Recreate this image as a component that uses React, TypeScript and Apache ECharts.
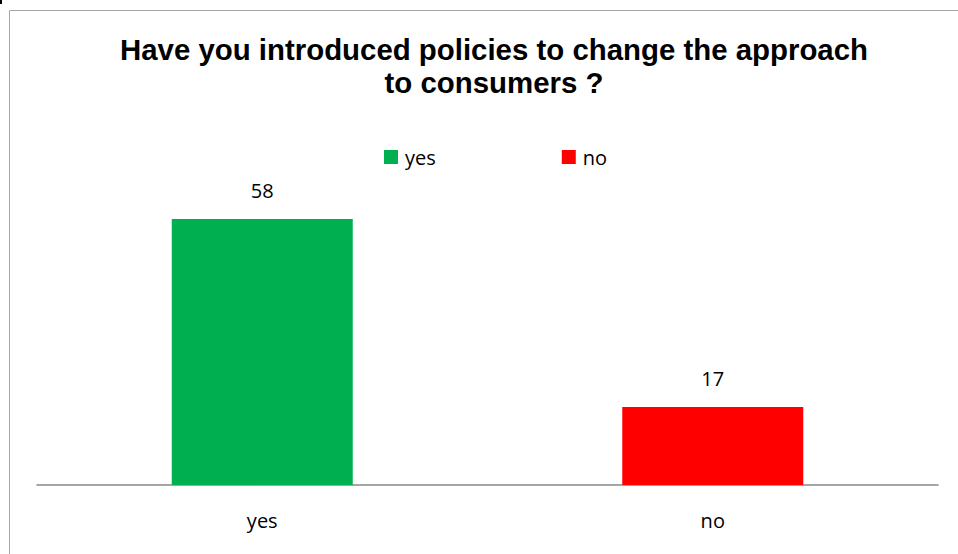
import React, { useEffect, useRef } from "react";
import * as echarts from "echarts";

const categories = ["yes", "no"];
const seriesNames = ["yes", "no"];
const yesValues: (number | string)[] = [58, "-"];
const noValues: (number | string)[] = ["-", 17];
const colors = ["#00B050", "#FF0000"];
const titleText = "Have you introduced policies to change the approach\nto consumers ?";

export default function App() {
  const ref = useRef<HTMLDivElement>(null);
  useEffect(() => {
    if (!ref.current) return;
    const chart = echarts.init(ref.current, null, { renderer: "svg" });
    const font = "'Open Sans', 'Noto Sans', sans-serif";
    chart.setOption({
      animation: false,
      backgroundColor: "#ffffff",
      title: {
        text: titleText,
        left: 489,
        top: 28,
        textAlign: "center",
        textStyle: {
          fontFamily: "Arial, 'Liberation Sans', sans-serif",
          fontSize: 29.4,
          fontWeight: "bold",
          color: "#000000",
          lineHeight: 33,
        },
      },
      legend: {
        data: seriesNames,
        left: 379,
        top: 142,
        icon: "rect",
        itemWidth: 14,
        itemHeight: 14,
        itemGap: 126,
        textStyle: { fontFamily: font, fontSize: 20, color: "#000000", padding: [0, 0, 0, 2] },
      },
      grid: { left: 37, right: 20, top: 164, bottom: 69 },
      xAxis: {
        type: "category",
        data: categories,
        axisLine: { lineStyle: { color: "#888888", width: 1.5 } },
        axisTick: { show: false },
        axisLabel: { fontFamily: font, fontSize: 20, color: "#000000", margin: 25 },
      },
      yAxis: {
        type: "value",
        min: 0,
        max: 70,
        show: false,
        splitLine: { show: false },
      },
      series: [
        {
          name: seriesNames[0],
          type: "bar",
          stack: "total",
          data: yesValues,
          barWidth: 181,
          itemStyle: { color: colors[0] },
          label: { show: true, position: "top", distance: 19, fontFamily: font, fontSize: 20, color: "#000000" },
        },
        {
          name: seriesNames[1],
          type: "bar",
          stack: "total",
          data: noValues,
          barWidth: 181,
          itemStyle: { color: colors[1] },
          label: { show: true, position: "top", distance: 19, fontFamily: font, fontSize: 20, color: "#000000" },
        },
      ],
      graphic: [
        {
          type: "rect",
          shape: { x: 9.5, y: 10.5, width: 980, height: 580 },
          style: { fill: "none", stroke: "#a6a6a6", lineWidth: 1 },
          silent: true,
          z: -1,
        },
        {
          type: "rect",
          shape: { x: 0, y: 0, width: 2, height: 4 },
          style: { fill: "#000000" },
          silent: true,
        },
      ],
    });
    return () => chart.dispose();
  }, []);
  return (
    <div
      ref={ref}
      style={{ position: "fixed", left: 0, top: 0, width: 958, height: 554 }}
    />
  );
}
